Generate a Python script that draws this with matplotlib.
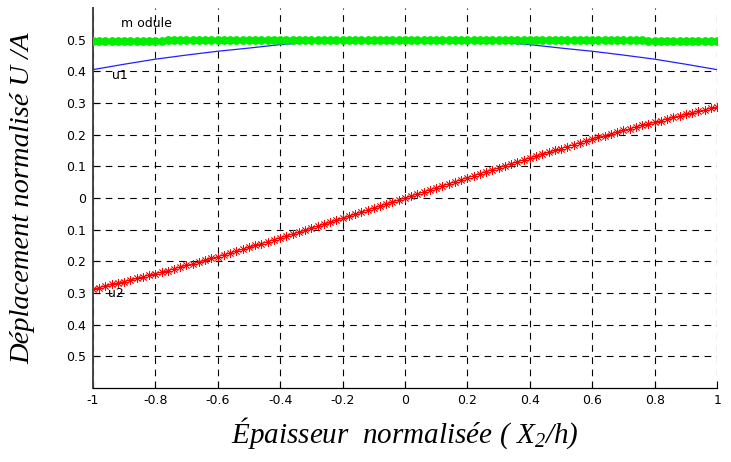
import numpy as np
import matplotlib
matplotlib.use("Agg")
import matplotlib.pyplot as plt

# thickness coordinate X2/h, sampled every 0.02
x = np.linspace(-1, 1, 101)

# u2 (antisymmetric component)
u2 = [-0.287, -0.283, -0.278, -0.273, -0.269, -0.264, -0.259, -0.254, -0.249, -0.244,
      -0.239, -0.234, -0.229, -0.224, -0.218, -0.213, -0.208, -0.202, -0.197, -0.191,
      -0.185, -0.180, -0.174, -0.168, -0.162, -0.156, -0.150, -0.144, -0.138, -0.132,
      -0.126, -0.120, -0.114, -0.108, -0.102, -0.095, -0.089, -0.083, -0.077, -0.070,
      -0.064, -0.058, -0.051, -0.045, -0.038, -0.032, -0.026, -0.019, -0.013, -0.006,
      0.000,
      0.006, 0.013, 0.019, 0.026, 0.032, 0.038, 0.045, 0.051, 0.058, 0.064,
      0.070, 0.077, 0.083, 0.089, 0.095, 0.102, 0.108, 0.114, 0.120, 0.126,
      0.132, 0.138, 0.144, 0.150, 0.156, 0.162, 0.168, 0.174, 0.180, 0.185,
      0.191, 0.197, 0.202, 0.208, 0.213, 0.218, 0.224, 0.229, 0.234, 0.239,
      0.244, 0.249, 0.254, 0.259, 0.264, 0.269, 0.273, 0.278, 0.283, 0.287]

# modulus sqrt(u1^2 + u2^2)
module = [0.494, 0.494, 0.494, 0.494, 0.494, 0.494, 0.494, 0.494, 0.494, 0.494,
          0.494, 0.494, 0.497, 0.497, 0.497, 0.497, 0.497, 0.497, 0.497, 0.497,
          0.497, 0.497, 0.497, 0.497, 0.497, 0.497, 0.497, 0.497, 0.497, 0.497,
          0.500, 0.500, 0.500, 0.500, 0.500, 0.500, 0.500, 0.500, 0.500, 0.500,
          0.500, 0.500, 0.500, 0.500, 0.500, 0.500, 0.500, 0.500, 0.500, 0.500,
          0.500,
          0.500, 0.500, 0.500, 0.500, 0.500, 0.500, 0.500, 0.500, 0.500, 0.500,
          0.500, 0.500, 0.500, 0.500, 0.500, 0.500, 0.500, 0.500, 0.500, 0.500,
          0.497, 0.497, 0.497, 0.497, 0.497, 0.497, 0.497, 0.497, 0.497, 0.497,
          0.497, 0.497, 0.497, 0.497, 0.497, 0.497, 0.497, 0.497, 0.494, 0.494,
          0.494, 0.494, 0.494, 0.494, 0.494, 0.494, 0.494, 0.494, 0.494, 0.494]

# u1 (symmetric component), every 0.1
x_u1 = [-1.0, -0.9, -0.8, -0.7, -0.6, -0.5, -0.4, -0.3, -0.2, -0.1, 0.0,
        0.1, 0.2, 0.3, 0.4, 0.5, 0.6, 0.7, 0.8, 0.9, 1.0]
u1 = [0.405, 0.422, 0.438, 0.451, 0.463, 0.473, 0.484, 0.491, 0.496, 0.499, 0.500,
      0.499, 0.496, 0.491, 0.484, 0.473, 0.463, 0.451, 0.438, 0.422, 0.405]

xticks = [-1, -0.8, -0.6, -0.4, -0.2, 0, 0.2, 0.4, 0.6, 0.8, 1]
xticklabels = ['-1', '-0.8', '-0.6', '-0.4', '-0.2', '0', '0.2', '0.4', '0.6', '0.8', '1']
yticks = [-0.5, -0.4, -0.3, -0.2, -0.1, 0, 0.1, 0.2, 0.3, 0.4, 0.5]
yticklabels = ['0.5', '0.4', '0.3', '0.2', '0.1', '0', '0.1', '0.2', '0.3', '0.4', '0.5']

plt.rcParams['font.family'] = ['DejaVu Sans']
plt.rcParams['mathtext.fontset'] = 'custom'
plt.rcParams['mathtext.rm'] = 'Liberation Serif:italic'
plt.rcParams['mathtext.it'] = 'Liberation Serif:italic'

fig = plt.figure(figsize=(7.31, 4.62), dpi=100)
ax = fig.add_axes([0.127, 0.160, 0.854, 0.823])

ax.plot(x_u1, u1, color='#2020ff', lw=0.9, zorder=3)
ax.plot(x, module, color='#00ee00', lw=1.2, marker='o', markersize=5.3,
        markeredgecolor='#00ee00', zorder=4)
ax.plot(x, u2, color='red', lw=0.7, marker=(8, 2, 0), markersize=6,
        markeredgewidth=0.6, zorder=5)

ax.text(-0.91, 0.552, 'm odule', fontsize=9, va='center', ha='left')
ax.text(-0.94, 0.385, 'u1', fontsize=9, va='center', ha='left')
ax.text(-0.95, -0.303, 'u2', fontsize=9, va='center', ha='left')

ax.set_xlim(-1, 1)
ax.set_ylim(-0.6, 0.6)
ax.set_xticks(xticks)
ax.set_xticklabels(xticklabels)
ax.set_yticks(yticks)
ax.set_yticklabels(yticklabels)
ax.tick_params(direction='in', length=5, width=0.8, labelsize=9)
ax.tick_params(axis='x', pad=4)
ax.tick_params(axis='y', pad=5)

ax.grid(True, color='black', linestyle=(0, (6, 5)), linewidth=0.8)
ax.spines['top'].set_visible(False)
ax.spines['right'].set_visible(False)
ax.spines['left'].set_linewidth(1.4)
ax.spines['left'].set_color('#444444')
ax.spines['bottom'].set_linewidth(0.9)

ax.set_ylabel('Déplacement normalisé U /A', family='Liberation Serif',
              style='italic', fontsize=20.5, labelpad=22)
ax.set_xlabel('Épaisseur  normalisée ( X$_2$/h)', family='Liberation Serif',
              style='italic', fontsize=21, labelpad=6)

fig.savefig('out.png', dpi=100)
